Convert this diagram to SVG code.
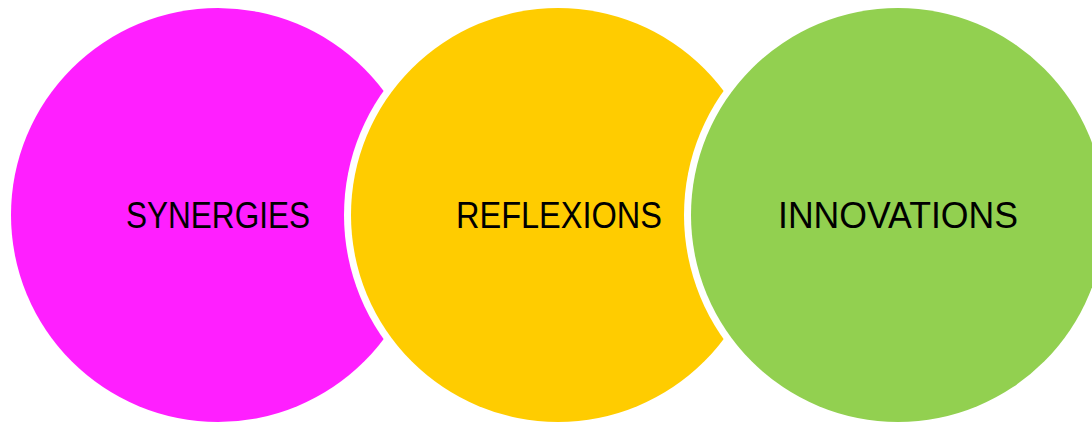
<svg xmlns="http://www.w3.org/2000/svg" width="1092" height="422" viewBox="0 0 1092 422">
<style>
.gap{fill:#FFFFFF}
.lbl{font-family:"Liberation Sans",Arial,sans-serif;font-size:36px;fill:#000000}
</style>
<rect width="1092" height="422" fill="#FFFFFF"/>
<g id="node-synergies">
<circle cx="218" cy="215" r="207" fill="#FF1FFF"/>
<text class="lbl" x="126" y="228" textLength="184" lengthAdjust="spacingAndGlyphs">SYNERGIES</text>
</g>
<g id="node-reflexions">
<circle class="gap" cx="558" cy="215" r="214"/>
<circle cx="558" cy="215" r="207" fill="#FFCC00"/>
<text class="lbl" x="456" y="228" textLength="206" lengthAdjust="spacingAndGlyphs">REFLEXIONS</text>
</g>
<g id="node-innovations">
<circle class="gap" cx="898" cy="215" r="214"/>
<circle cx="898" cy="215" r="207" fill="#92D050"/>
<text class="lbl" x="778" y="228" textLength="240" lengthAdjust="spacingAndGlyphs">INNOVATIONS</text>
</g>
<g id="connectors"></g>
</svg>
